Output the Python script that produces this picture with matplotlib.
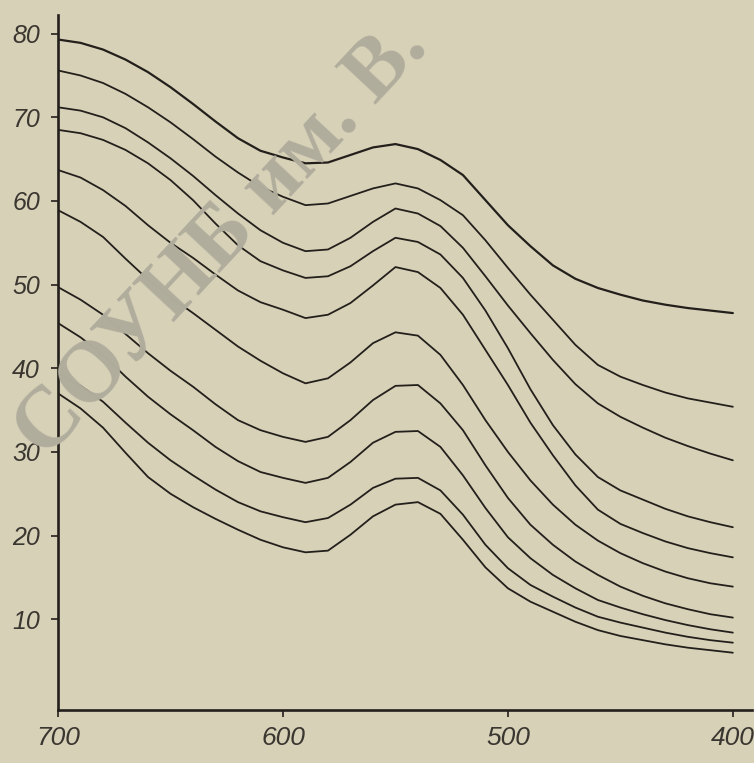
import matplotlib
matplotlib.use("Agg")
import matplotlib.pyplot as plt
from matplotlib import font_manager

# ---------------- data ----------------
wavelengths = [700, 690, 680, 670, 660, 650, 640, 630, 620, 610, 600,
               590, 580, 570, 560, 550, 540, 530, 520, 510, 500,
               490, 480, 470, 460, 450, 440, 430, 420, 410, 400]

curve1 = [79.3, 78.9, 78.1, 76.9, 75.4, 73.6, 71.6, 69.5, 67.5, 66.0, 65.2,
          64.5, 64.6, 65.5, 66.4, 66.8, 66.2, 64.9, 63.1, 60.1, 57.1,
          54.6, 52.3, 50.7, 49.6, 48.8, 48.1, 47.6, 47.2, 46.9, 46.6]
curve2 = [75.6, 75.0, 74.1, 72.8, 71.2, 69.4, 67.4, 65.3, 63.4, 61.7, 60.5,
          59.5, 59.7, 60.6, 61.5, 62.1, 61.5, 60.1, 58.3, 55.3, 52.0,
          48.8, 45.8, 42.8, 40.4, 39.0, 38.0, 37.1, 36.4, 35.9, 35.4]
curve3 = [71.2, 70.8, 70.0, 68.7, 67.0, 65.1, 63.0, 60.7, 58.5, 56.5, 55.0,
          54.0, 54.2, 55.6, 57.5, 59.1, 58.5, 57.0, 54.4, 51.0, 47.5,
          44.2, 41.0, 38.1, 35.8, 34.2, 32.9, 31.7, 30.7, 29.8, 29.0]
curve4 = [68.5, 68.1, 67.3, 66.1, 64.5, 62.5, 60.1, 57.3, 54.7, 52.8, 51.7,
          50.8, 51.0, 52.2, 54.0, 55.6, 55.1, 53.6, 50.8, 46.9, 42.4,
          37.5, 33.2, 29.7, 27.0, 25.4, 24.3, 23.2, 22.3, 21.6, 21.0]
curve5 = [63.7, 62.8, 61.3, 59.4, 57.1, 55.0, 53.2, 51.2, 49.3, 47.9, 47.0,
          46.0, 46.4, 47.8, 49.9, 52.1, 51.5, 49.6, 46.4, 42.2, 38.0,
          33.5, 29.6, 26.0, 23.1, 21.4, 20.3, 19.3, 18.5, 17.9, 17.4]
curve6 = [58.9, 57.5, 55.7, 53.1, 50.6, 48.5, 46.6, 44.6, 42.6, 40.9, 39.4,
          38.2, 38.8, 40.7, 43.0, 44.3, 43.9, 41.6, 38.0, 33.8, 30.0,
          26.6, 23.7, 21.3, 19.4, 17.9, 16.7, 15.7, 14.9, 14.3, 13.9]
curve7 = [49.7, 48.2, 46.4, 44.1, 41.8, 39.7, 37.8, 35.7, 33.8, 32.6, 31.8,
          31.2, 31.8, 33.8, 36.2, 37.9, 38.0, 35.8, 32.6, 28.4, 24.5,
          21.3, 18.9, 16.9, 15.3, 13.9, 12.8, 11.9, 11.2, 10.6, 10.2]
curve8 = [45.4, 43.7, 41.6, 39.0, 36.6, 34.5, 32.6, 30.6, 28.9, 27.6, 26.9,
          26.3, 26.9, 28.8, 31.1, 32.4, 32.5, 30.6, 27.2, 23.3, 19.8,
          17.3, 15.3, 13.7, 12.3, 11.4, 10.6, 9.9, 9.3, 8.8, 8.4]
curve9 = [39.4, 37.9, 36.0, 33.5, 31.1, 29.0, 27.2, 25.5, 24.0, 22.9, 22.2,
          21.6, 22.1, 23.7, 25.7, 26.8, 26.9, 25.4, 22.5, 18.9, 16.1,
          14.1, 12.7, 11.4, 10.3, 9.6, 9.0, 8.4, 7.9, 7.5, 7.2]
curve10 = [37.0, 35.2, 32.9, 29.9, 27.0, 25.0, 23.4, 22.0, 20.7, 19.5, 18.6,
           18.0, 18.2, 20.1, 22.3, 23.7, 24.0, 22.6, 19.5, 16.2, 13.7,
           12.1, 10.9, 9.7, 8.7, 8.0, 7.5, 7.0, 6.6, 6.3, 6.0]

curves = [curve1, curve2, curve3, curve4, curve5,
          curve6, curve7, curve8, curve9, curve10]

x_ticks = [700, 600, 500, 400]
x_tick_labels = ["700", "600", "500", "400"]
y_ticks = [10, 20, 30, 40, 50, 60, 70, 80]
y_tick_labels = ["10", "20", "30", "40", "50", "60", "70", "80"]

watermark_text = "СОУНБ им. В."

# ---------------- style ----------------
available = {f.name for f in font_manager.fontManager.ttflist}
label_font = "Liberation Sans" if "Liberation Sans" in available else "DejaVu Sans"
wm_font = "Liberation Serif" if "Liberation Serif" in available else "DejaVu Serif"

bg = "#d7d1b8"
ink = "#231f1b"

fig = plt.figure(figsize=(7.54, 7.63), dpi=100, facecolor=bg)
ax = fig.add_axes([0.077, 0.07, 0.92, 0.91])
ax.set_facecolor(bg)

# watermark
fig.text(0.002, 0.38, watermark_text, fontsize=62, fontfamily=wm_font,
         fontweight="bold", color="#b1ad9d", rotation=47,
         ha="left", va="bottom", zorder=0)
ax.patch.set_alpha(0)

for i, c in enumerate(curves):
    ax.plot(wavelengths, c, color=ink, lw=1.6 if i == 0 else 1.3,
            solid_capstyle="round", solid_joinstyle="round", zorder=3)

ax.set_xlim(700, 391.6)
ax.set_ylim(-0.8, 82.2)

for s in ["top", "right"]:
    ax.spines[s].set_visible(False)
for s in ["left", "bottom"]:
    ax.spines[s].set_linewidth(1.9)
    ax.spines[s].set_color(ink)

ax.set_xticks(x_ticks)
ax.set_xticklabels(x_tick_labels, fontsize=19, fontstyle="italic",
                   fontfamily=label_font, color="#3a3630")
ax.set_yticks(y_ticks)
ax.set_yticklabels(y_tick_labels, fontsize=18, fontstyle="italic",
                   fontfamily=label_font, color="#3a3630")
ax.tick_params(axis="both", direction="out", length=5, width=1.2, color=ink)
ax.tick_params(axis="x", pad=7)
ax.tick_params(axis="y", pad=8)

fig.savefig("out.png", dpi=100, facecolor=bg)
